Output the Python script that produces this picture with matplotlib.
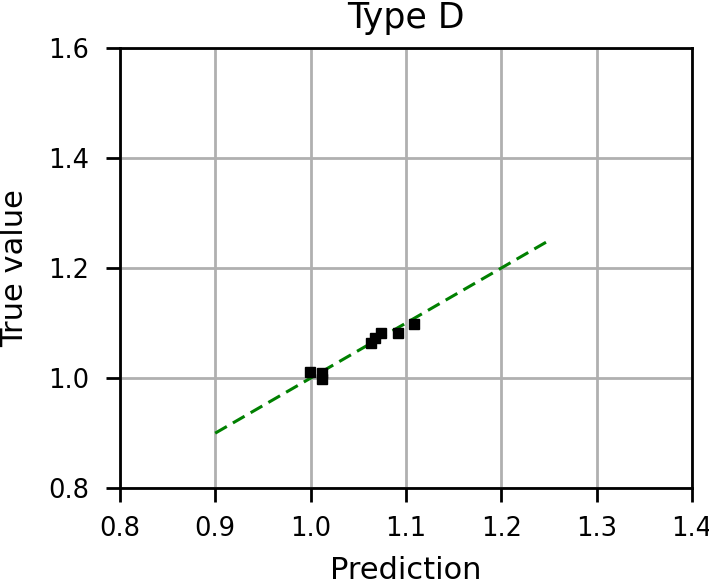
"""
Prediction vs true value for type D, with the identity line as reference.
"""
import matplotlib
matplotlib.use("Agg")
import matplotlib.pyplot as plt

# data
pred = [0.9997, 1.0122, 1.0122, 1.0632, 1.0680, 1.0737, 1.0922, 1.1080]
true = [1.011, 1.009, 0.998, 1.0636, 1.073, 1.082, 1.082, 1.098]
ideal = [0.9, 1.25]

xticks = [0.8, 0.9, 1.0, 1.1, 1.2, 1.3, 1.4]
yticks = [0.8, 1.0, 1.2, 1.4, 1.6]

plt.rcParams["axes.linewidth"] = 2

fig = plt.figure(figsize=(7.09, 5.84), dpi=100)
ax = fig.add_axes([0.169, 0.164, 0.807, 0.754])

ax.plot(ideal, ideal, 'g--', lw=2.2, dashes=(4.4, 2.3), zorder=2)
ax.plot(pred, true, 'ks', ms=6.5, zorder=3)

ax.set_xlim(0.8, 1.4)
ax.set_ylim(0.8, 1.6)
ax.set_xticks(xticks)
ax.set_yticks(yticks)
ax.grid(True, color='#b0b0b0', lw=2)
ax.set_axisbelow(True)
ax.tick_params(length=10, width=2, labelsize=18.5)
ax.tick_params(axis='x', pad=10)
ax.tick_params(axis='y', pad=12)

ax.set_title("Type D", fontsize=25, pad=14)
ax.set_xlabel("Prediction", fontsize=22, labelpad=10)
ax.set_ylabel("True value", fontsize=22, labelpad=14)

plt.savefig("out.png", dpi=100)
